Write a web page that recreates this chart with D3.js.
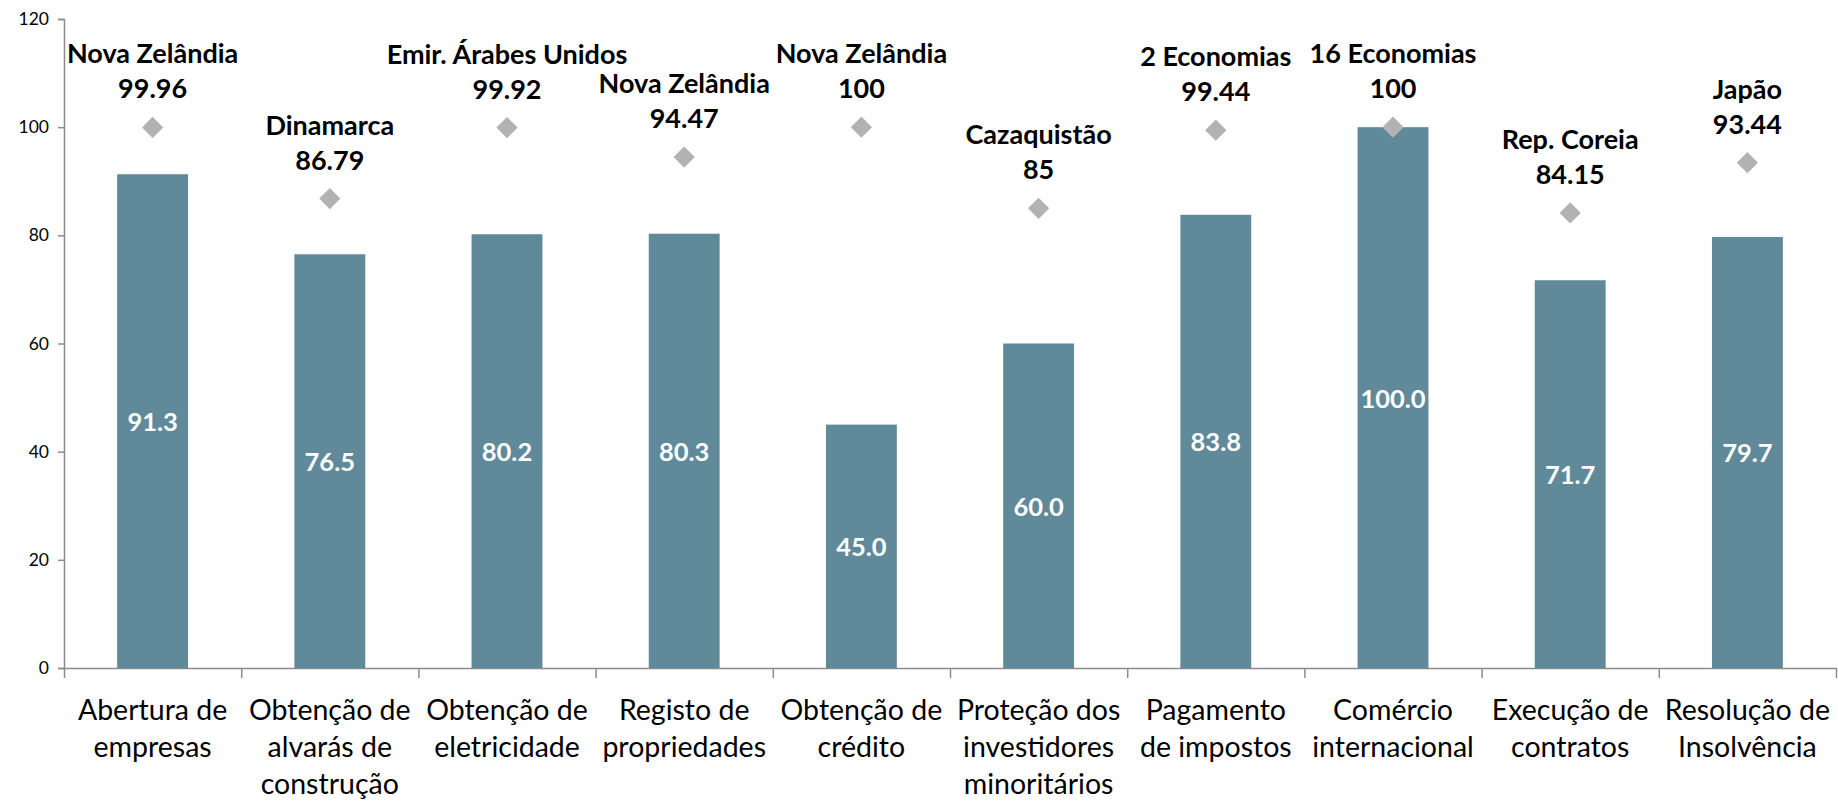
<!DOCTYPE html>
<html>
<head>
<meta charset="utf-8">
<script src="https://cdn.jsdelivr.net/npm/d3@7"></script>
<style>
  body { margin: 0; background: #fff; }
  svg { display: block; font-family: Lato, "Open Sans", sans-serif; }
</style>
</head>
<body>
<svg id="chart"></svg>
<script>
// categories (wrapped lines) and values
var categories = [
    ["Abertura de", "empresas"],
    ["Obtenção de", "alvarás de", "construção"],
    ["Obtenção de", "eletricidade"],
    ["Registo de", "propriedades"],
    ["Obtenção de", "crédito"],
    ["Proteção dos", "investidores", "minoritários"],
    ["Pagamento", "de impostos"],
    ["Comércio", "internacional"],
    ["Execução de", "contratos"],
    ["Resolução de", "Insolvência"]
];
var scores = [91.3, 76.5, 80.2, 80.3, 45.0, 60.0, 83.8, 100.0, 71.7, 79.7];
var bestEconomies = ["Nova Zelândia", "Dinamarca", "Emir. Árabes Unidos", "Nova Zelândia", "Nova Zelândia",
    "Cazaquistão", "2 Economias", "16 Economias", "Rep. Coreia", "Japão"];
var bestScores = [99.96, 86.79, 99.92, 94.47, 100, 85, 99.44, 100, 84.15, 93.44];
var yTicks = [0, 20, 40, 60, 80, 100, 120];

var W = 1838, H = 801;
var margin = {top: 19, right: 2, bottom: 133, left: 64};
var svg = d3.select("#chart").attr("width", W).attr("height", H);
var g = svg.append("g").attr("transform", "translate(" + margin.left + "," + margin.top + ")");
var width = W - margin.left - margin.right;
var height = H - margin.top - margin.bottom;

var idx = d3.range(categories.length);
var x = d3.scaleBand().domain(idx).range([0, width]).paddingInner(0.6).paddingOuter(0.3);
var y = d3.scaleLinear().domain([0, 120]).range([height, 0]);
var edges = d3.scaleLinear().domain([0, categories.length]).range([0, width]);

var axisColor = "#8c8c8c";

// y axis
var yAxis = g.append("g")
    .call(d3.axisLeft(y).tickValues(yTicks).tickSize(6).tickPadding(9));
yAxis.select(".domain").attr("stroke", axisColor).attr("stroke-width", 1.5);
yAxis.selectAll(".tick line").attr("stroke", axisColor).attr("stroke-width", 1.5);
yAxis.selectAll("text").attr("font-size", 17.5).attr("fill", "#000")
    .style("font-family", "Lato, 'Open Sans', sans-serif");

// x axis: tick marks between categories
var xAxis = g.append("g").attr("transform", "translate(0," + height + ")")
    .call(d3.axisBottom(edges).tickValues(d3.range(categories.length + 1)).tickSize(10).tickSizeOuter(0).tickFormat(""));
xAxis.select(".domain").attr("stroke", axisColor).attr("stroke-width", 1.5);
xAxis.selectAll(".tick line").attr("stroke", axisColor).attr("stroke-width", 1.5);

// category labels
var catLabels = g.append("g").selectAll("text.cat")
    .data(categories).enter().append("text")
    .attr("class", "cat")
    .attr("text-anchor", "middle")
    .attr("font-size", 28.5)
    .attr("fill", "#000")
    .attr("x", function(d, i) { return x(i) + x.bandwidth() / 2; })
    .attr("y", height + 52);
catLabels.selectAll("tspan").data(function(d) { return d; }).enter().append("tspan")
    .attr("x", function() { return d3.select(this.parentNode).attr("x"); })
    .attr("dy", function(d, j) { return j === 0 ? 0 : 37; })
    .text(function(d) { return d; });

// bars
g.selectAll("rect.bar").data(scores).enter().append("rect")
    .attr("class", "bar")
    .attr("x", function(d, i) { return x(i); })
    .attr("width", x.bandwidth())
    .attr("y", function(d) { return y(d); })
    .attr("height", function(d) { return height - y(d); })
    .attr("fill", "#608a9a");

// bar value labels
g.selectAll("text.val").data(scores).enter().append("text")
    .attr("class", "val")
    .attr("text-anchor", "middle")
    .attr("dominant-baseline", "central")
    .attr("font-size", 25.5)
    .attr("font-weight", "bold")
    .attr("fill", "#fff")
    .attr("x", function(d, i) { return x(i) + x.bandwidth() / 2; })
    .attr("y", function(d) { return (y(d) + height) / 2; })
    .text(function(d) { return d.toFixed(1); });

// best performer diamonds
var dsize = 15;
g.selectAll("path.best").data(bestScores).enter().append("path")
    .attr("class", "best")
    .attr("d", "M0," + (-dsize / Math.SQRT2) + "L" + (dsize / Math.SQRT2) + ",0L0," + (dsize / Math.SQRT2) + "L" + (-dsize / Math.SQRT2) + ",0Z")
    .attr("transform", function(d, i) { return "translate(" + (x(i) + x.bandwidth() / 2) + "," + y(d) + ")"; })
    .attr("fill", "#b2b2b2");

// best performer labels
var best = g.selectAll("g.bestlab").data(bestScores).enter().append("g")
    .attr("class", "bestlab")
    .attr("transform", function(d, i) { return "translate(" + (x(i) + x.bandwidth() / 2) + "," + y(d) + ")"; });
best.append("text")
    .attr("text-anchor", "middle")
    .attr("font-size", 27)
    .attr("font-weight", "bold")
    .attr("y", -64)
    .text(function(d, i) { return bestEconomies[i]; });
best.append("text")
    .attr("text-anchor", "middle")
    .attr("font-size", 27)
    .attr("font-weight", "bold")
    .attr("y", -29)
    .text(function(d) { return String(d); });
</script>
</body>
</html>
